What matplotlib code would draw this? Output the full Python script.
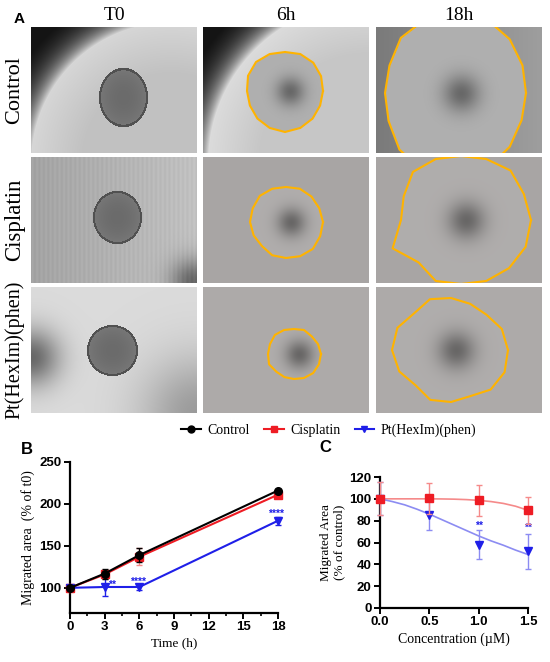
import numpy as np
import matplotlib.pyplot as plt
import matplotlib as mpl
from matplotlib.path import Path
from matplotlib.lines import Line2D

SERIF = ["Liberation Serif", "DejaVu Serif"]
SANS = ["Liberation Sans", "DejaVu Sans"]
RED = "#ee1c24"; LRED = "#f58a8a"; BLUE = "#1f1fe8"; LBLUE = "#8c8cf2"
ORANGE = "#ffb300"
mpl.rcParams.update({"font.family": SANS, "axes.linewidth": 1.6})

# ---- panel B data: migrated area (% of t0) vs time
time_h = [0, 3, 6, 18]
ctrl_b = [100, 117, 139, 216]
ctrl_b_err = [1, 6, 8, 2]
cis_b = [100, 116, 137, 211]
cis_b_err = [1, 5, 10, 2]
pt_b = [100, 101, 101, 180]
pt_b_err = [1, 11, 4, 5]

# ---- panel C data: migrated area (% of control) vs concentration
conc = [0.0, 0.5, 1.0, 1.5]
cis_c = [100, 100.5, 98.5, 89.5]
cis_c_err = [15, 14, 14, 12.5]
pt_c = [100, 85, 58, 52]
pt_c_err = [15, 14, 13, 16]
fit_x = [0.0, 0.125, 0.25, 0.375, 0.5, 0.625, 0.75, 0.875, 1.0, 1.125, 1.25, 1.375, 1.5]
cis_fit = [100, 100, 100, 100, 100, 99.9, 99.7, 99.3, 98.6, 97.5, 95.8, 93.2, 89.5]
pt_fit = [100, 97.5, 94.5, 90.5, 86, 81, 76, 71, 66, 61.5, 57.5, 53, 49]

# ---- panel A layout (pixel boxes) and spheroid outlines (radii at equal angles)
cols = [31, 203, 376]; rows = [27, 157, 287]; PW, PH = 166, 126
col_titles = ["T0", "6h", "18h"]
row_titles = ["Control", "Cisplatin", "Pt(HexIm)(phen)"]
t0_spheroids = [(92, 70, 24, 29), (86, 60, 24, 26), (81, 63, 25, 25)]
outlines = {
    (0, 1): (82, 64, [38, 39, 40, 40, 39, 40, 41, 40, 38, 38, 39, 40, 41, 40, 39, 38]),
    (0, 2): (80, 66, [70, 72, 76, 80, 85, 80, 78, 72, 71, 73, 80, 85, 85, 82, 76, 71]),
    (1, 1): (83, 65, [37, 36, 36, 36, 35, 36, 37, 36, 36, 35, 34, 36, 36, 37, 38, 37]),
    (1, 2): (85, 63, [70, 68, 70, 66, 64, 66, 68, 62, 60, 74, 60, 66, 64, 66, 68, 70]),
    (2, 1): (91, 67, [27, 26, 25, 26, 25, 26, 27, 26, 26, 27, 25, 25, 25, 26, 27, 27]),
    (2, 2): (75, 63, [57, 55, 50, 50, 52, 55, 52, 58, 59, 56, 50, 54, 52, 50, 56, 58]),
}

fig = plt.figure(figsize=(5.5, 6.62), dpi=100)

def px_axes(x0, y0, w, h):
    return fig.add_axes([x0 / 550, 1 - (y0 + h) / 662, w / 550, h / 662])

def fig_text(x, y, s, **kw):
    fig.text(x / 550, 1 - y / 662, s, ha="center", va="center", **kw)

yy, xx = np.mgrid[0:PH, 0:PW].astype(float)

def gauss(cx, cy, s):
    return np.exp(-((xx - cx) ** 2 + (yy - cy) ** 2) / (2 * s ** 2))

def corner_dark(cx, cy, r0, inner):
    r = np.hypot(xx - cx, yy - cy)
    img = inner + 0.08 * np.clip((r - r0 + 50) / 50, 0, 1)
    out = r > r0
    img[out] = np.maximum(0.08, (inner + 0.08) * np.exp(-(r[out] - r0) / 16))
    return img

def outline_pts(cx, cy, radii):
    a = np.linspace(0, 2 * np.pi, len(radii), endpoint=False)
    r = np.array(radii, float)
    p = np.column_stack([cx + r * np.cos(a), cy - r * np.sin(a)])
    return np.vstack([p, p[:1]])

backgrounds = [
    [corner_dark(140, 135, 140, 0.76), corner_dark(165, 135, 160, 0.78), 0.48 + 0.14 * xx / PW],
    [0.64 + 0.12 * xx / PW + 0.015 * np.sin(xx * 1.4) - 0.35 * gauss(162, 124, 16),
     np.full_like(xx, 0.66), np.full_like(xx, 0.66)],
    [0.86 - 0.45 * gauss(0, 70, 20) - 0.25 * gauss(166, 126, 40),
     np.full_like(xx, 0.68), np.full_like(xx, 0.68)],
]

for i in range(3):
    for j in range(3):
        ax = px_axes(cols[j], rows[i], PW, PH)
        img = np.array(backgrounds[i][j], float)
        if j == 0:
            cx, cy, rx, ry = t0_spheroids[i]
            m = ((xx - cx) / rx) ** 2 + ((yy - cy) / ry) ** 2
            img = np.where(m <= 1, 0.42 + 0.05 * m, img)
            img = np.where((m > 0.88) & (m <= 1.05), 0.32, img)
        else:
            cx, cy, radii = outlines[(i, j)]
            pts = outline_pts(cx, cy, radii)
            inside = Path(pts).contains_points(np.column_stack([xx.ravel(), yy.ravel()])).reshape(xx.shape)
            core = 0.69 - 0.28 * gauss(cx + 5, cy, 10 if j == 1 else 13)
            img = np.where(inside, core, img)
        tint = (1.0, 0.985, 0.98) if (i > 0 and j > 0) else (1, 1, 1)
        rgb = np.clip(np.dstack([img * t for t in tint]), 0, 1)
        ax.imshow(rgb, extent=(0, PW, PH, 0), interpolation="bilinear")
        if j > 0:
            ax.plot(pts[:, 0], pts[:, 1], color=ORANGE, lw=1.5)
        ax.set_xlim(0, PW); ax.set_ylim(PH, 0); ax.axis("off")

for j, t in enumerate(col_titles):
    fig_text(cols[j] + PW / 2, 16, t, family=SERIF, fontsize=14)
for i, t in enumerate(row_titles):
    fig_text(15, rows[i] + PH / 2, t, family=SERIF, fontsize=[16, 16.5, 14.5][i], rotation=90)
fig_text(19, 19, "A", fontsize=11, fontweight="bold")
fig_text(27, 449, "B", fontsize=12, fontweight="bold")
fig_text(325, 447, "C", fontsize=12, fontweight="bold")

def style(ax):
    for s in ("top", "right"):
        ax.spines[s].set_visible(False)
    ax.tick_params(which="major", length=4, width=1.4, labelsize=9.5, pad=2)
    ax.tick_params(which="minor", length=2.5, width=1.2)
    for lab in ax.get_xticklabels() + ax.get_yticklabels():
        lab.set_fontweight("bold")

# ---- panel B
axB = px_axes(70, 462, 208, 151)
axB.errorbar(time_h, ctrl_b, yerr=ctrl_b_err, color="black", marker="o", ms=5.5, lw=1.5,
             capsize=2.5, elinewidth=1, clip_on=False, zorder=4)
axB.errorbar(time_h, cis_b, yerr=cis_b_err, color=RED, ecolor=LRED, marker="s", ms=5.5, lw=1.5,
             capsize=2.5, elinewidth=1, clip_on=False, zorder=3)
axB.errorbar(time_h, pt_b, yerr=pt_b_err, color=BLUE, ecolor=BLUE, marker="v", ms=5.5, lw=1.5,
             capsize=2.5, elinewidth=1, clip_on=False, zorder=3)
axB.set_xlim(0, 18); axB.set_ylim(70, 250)
axB.set_xticks(range(0, 19, 3)); axB.set_xticks(np.arange(1.5, 18, 3), minor=True)
axB.set_yticks([100, 150, 200, 250])
style(axB)
axB.set_xlabel("Time (h)", family=SERIF, fontsize=9.5, labelpad=3)
axB.set_ylabel("Migrated area  (% of t0)", family=SERIF, fontsize=10, labelpad=3)
for x, y, s in [(3.6, 104, "**"), (5.9, 107, "****"), (17.8, 188, "****")]:
    axB.text(x, y, s, color=BLUE, fontsize=7.5, fontweight="bold", ha="center", va="center")

# ---- panel C
axC = px_axes(380, 477, 148, 131)
axC.plot(fit_x, cis_fit, color=LRED, lw=1.2, zorder=2)
axC.plot(fit_x, pt_fit, color=LBLUE, lw=1.2, zorder=2)
axC.errorbar(conc, cis_c, yerr=cis_c_err, ls="none", color=RED, ecolor=LRED, marker="s", ms=6,
             capsize=2.5, elinewidth=1, clip_on=False, zorder=4)
axC.errorbar(conc, pt_c, yerr=pt_c_err, ls="none", color=BLUE, ecolor=LBLUE, marker="v", ms=6,
             capsize=2.5, elinewidth=1, clip_on=False, zorder=3)
axC.set_xlim(0, 1.5); axC.set_ylim(0, 120)
axC.set_xticks([0, 0.5, 1.0, 1.5]); axC.set_xticklabels(["0.0", "0.5", "1.0", "1.5"])
axC.set_yticks(range(0, 121, 20))
style(axC)
axC.set_xlabel("Concentration (\u00b5M)", family=SERIF, fontsize=10, labelpad=3)
axC.set_ylabel("Migrated Area\n(% of control)", family=SERIF, fontsize=9.5, labelpad=3)
for x, y in [(1.0, 75), (1.5, 73)]:
    axC.text(x, y, "**", color=BLUE, fontsize=7.5, fontweight="bold", ha="center", va="center")

handles = [Line2D([], [], color="black", marker="o", ms=5, lw=1.5),
           Line2D([], [], color=RED, marker="s", ms=5, lw=1.5),
           Line2D([], [], color=BLUE, marker="v", ms=5, lw=1.5)]
fig.legend(handles, ["Control", "Cisplatin", "Pt(HexIm)(phen)"], loc="center",
           bbox_to_anchor=(329 / 550, 1 - 430 / 662), ncol=3, frameon=False,
           prop={"family": SERIF, "size": 10}, handlelength=1.4, columnspacing=1.0, handletextpad=0.5)

fig.savefig("out.png", dpi=100, facecolor="white")
